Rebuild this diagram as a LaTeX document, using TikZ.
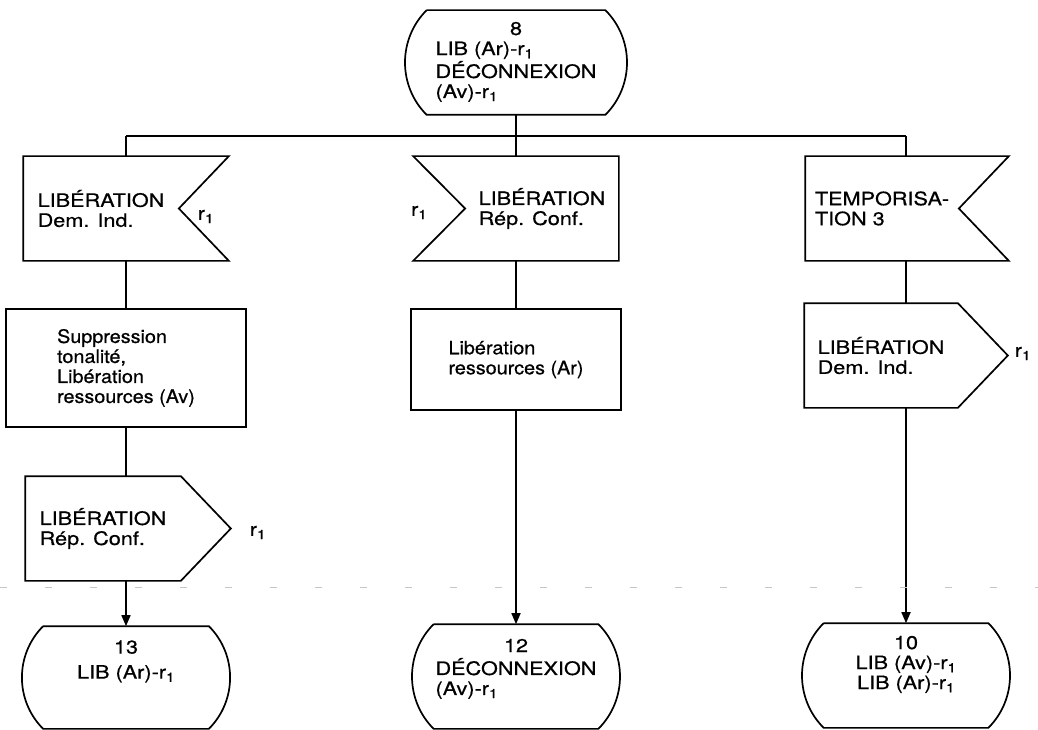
\documentclass[tikz,border=0pt]{standalone}
\usepackage{fontspec}
\setmainfont{TeX Gyre Heros}[FakeStretch=1.17,FakeBold=0.6]
\newfontfamily\taskfont{TeX Gyre Heros}[FakeStretch=1.07,FakeBold=0.6]
\usetikzlibrary{arrows.meta,positioning,calc}
% extra depth under the last line, pushes state text upwards
\newcommand{\statelift}[1]{\rule[-#1]{0pt}{#1}}

\begin{document}
\begin{tikzpicture}[x=1pt,y=-1pt,line width=1.7pt,
    txt/.style={inner sep=0pt,align=left,
                font=\fontsize{18.5pt}{20pt}\selectfont},
    % state: flat top and bottom, bulging sides
    state/.style={txt,align=center,minimum height=103pt,
      append after command={\pgfextra{\draw
        ([xshift=20pt]\tikzlastnode.north west) -- ([xshift=-20pt]\tikzlastnode.north east)
        to[bend left=45] ([xshift=-20pt]\tikzlastnode.south east)
        -- ([xshift=20pt]\tikzlastnode.south west)
        to[bend left=45] ([xshift=20pt]\tikzlastnode.north west);}}},
    % input signal, notch on the right
    insigR/.style={txt,minimum height=103pt,
      append after command={\pgfextra{\draw
        (\tikzlastnode.north west) -- ([xshift=50pt]\tikzlastnode.north east)
        -- (\tikzlastnode.east) -- ([xshift=50pt]\tikzlastnode.south east)
        -- (\tikzlastnode.south west) -- cycle;}}},
    % input signal, notch on the left
    insigL/.style={txt,minimum height=103pt,
      append after command={\pgfextra{\draw
        ([xshift=-52pt]\tikzlastnode.north west) -- (\tikzlastnode.north east)
        -- (\tikzlastnode.south east) -- ([xshift=-52pt]\tikzlastnode.south west)
        -- (\tikzlastnode.west) -- cycle;}}},
    % output signal, pointing right
    outsig/.style={txt,minimum height=103pt,
      append after command={\pgfextra{\draw
        (\tikzlastnode.north west) -- (\tikzlastnode.north east)
        -- ([xshift=50pt]\tikzlastnode.east) -- (\tikzlastnode.south east)
        -- (\tikzlastnode.south west) -- cycle;}}},
    task/.style={txt,draw,font=\fontsize{18.5pt}{20pt}\taskfont},
    lbl/.style={txt},
    arr/.style={-{Triangle[length=11pt,width=9pt]}}
  ]
    \useasboundingbox[fill=white] (0,0) rectangle (1038,730);

    \node[state,minimum width=217pt] (s8) at (516,62.5)
      {\begin{tabular}{@{}l@{}}
         \multicolumn{1}{@{}c@{}}{8}\\
         LIB (Ar)-r\textsubscript{1}\\
         DÉCONNEXION\\
         (Av)-r\textsubscript{1}
       \end{tabular}};

    % left branch
    \node[insigR,minimum width=154pt] (in1) at (101,208.5) {LIBÉRATION\\Dem. Ind.};
    \node[lbl] (r1a) at ([xshift=27pt,yshift=-8pt]in1.east) {r\textsubscript{1}};
    \node[task,minimum width=240pt,minimum height=118pt] (t1) at (126,368)
      {Suppression\\tonalité,\\Libération\\ressources (Av)};
    \node[outsig,minimum width=154pt] (out1) at (103,528.5) {LIBÉRATION\\Rép. Conf.};
    \node[lbl] (r1b) at ([xshift=77pt,yshift=-4pt]out1.east) {r\textsubscript{1}};
    \node[state,minimum width=204pt,minimum height=101pt] (s13) at (126,677.5)
      {13\\[5pt]LIB (Ar)-r\textsubscript{1}\statelift{36pt}};

    % middle branch
    \node[insigL,minimum width=152pt] (in2) at (542,208.5) {LIBÉRATION\\Rép. Conf.};
    \node[lbl] (r1c) at ([xshift=-46pt,yshift=-4pt]in2.west) {r\textsubscript{1}};
    \node[task,minimum width=210pt,minimum height=101pt] (t2) at (516,359.5)
      {Libération\\ressources (Ar)};
    \node[state,minimum width=203pt] (s12) at (516,676.5)
      {\begin{tabular}{@{}l@{}}
         \multicolumn{1}{@{}c@{}}{12}\\
         DÉCONNEXION\\
         (Av)-r\textsubscript{1}\statelift{20pt}
       \end{tabular}};

    % right branch
    \node[insigR,minimum width=152pt] (in3) at (882,208.5) {TEMPORISA-\\TION 3};
    \node[outsig,minimum width=152pt] (out3) at (881,355.5) {LIBÉRATION\\Dem. Ind.};
    \node[lbl] (r1d) at ([xshift=65pt,yshift=2pt]out3.east) {r\textsubscript{1}};
    \node[state,minimum width=203pt] (s10) at (906,675.5)
      {10\\LIB (Av)-r\textsubscript{1}\\LIB (Ar)-r\textsubscript{1}\statelift{26pt}};

    % fork below state 8
    \draw (s8.south) -- ++(0,21) coordinate (fork);
    \draw (fork -| t1.north) -- (fork -| s10.north);
    \draw (fork -| t1.north) -- (t1.north |- in1.north);
    \draw (fork) -- (fork |- in2.north);
    \draw (fork -| s10.north) -- (s10.north |- in3.north);

    \draw (t1.north |- in1.south) -- (t1.north);
    \draw (t1.south) -- (t1.south |- out1.north);
    \draw[arr] (s13.north |- out1.south) -- (s13.north);

    \draw (t2.north |- in2.south) -- (t2.north);
    \draw[arr] (t2.south) -- (s12.north);

    \draw (s10.north |- in3.south) -- (s10.north |- out3.north);
    \draw[arr] (s10.north |- out3.south) -- (s10.north);

    % faint fold mark
    \draw[gray!45,line width=0.8pt,dash pattern=on 7pt off 38pt] (0,587) -- (1038,587);
  \end{tikzpicture}
\end{document}
